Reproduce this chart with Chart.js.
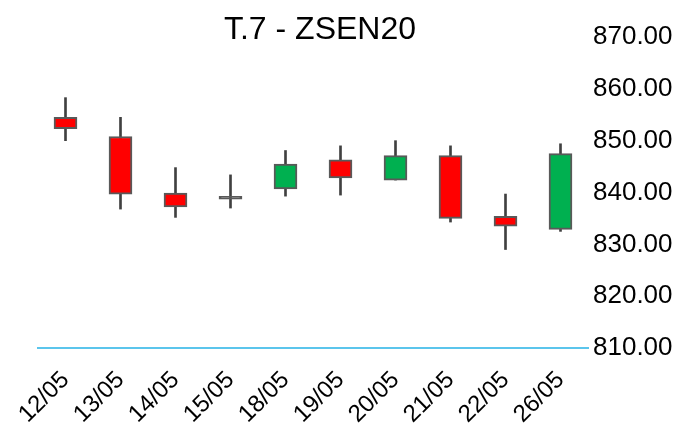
<!DOCTYPE html>
<html>
<head>
<meta charset="utf-8">
<script src="https://cdn.jsdelivr.net/npm/chart.js@4"></script>
<style>
    html, body { margin: 0; padding: 0; background: #fff; }
    #wrap { width: 679px; height: 427px; }
</style>
</head>
<body>
<div id="wrap"><canvas id="nenChart" width="679" height="427"></canvas></div>
<script>
// Dữ liệu nến
const ngay = ['12/05', '13/05', '14/05', '15/05', '18/05', '19/05', '20/05', '21/05', '22/05', '26/05'];
const giaMo = [854.5, 850.8, 839.9, 838.7, 840.7, 846.3, 842.4, 847.1, 835.4, 832.9];
const giaDong = [852.3, 839.7, 837.2, 838.7, 845.5, 842.8, 847.1, 835.0, 833.5, 847.5];
const giaCao = [858.3, 854.5, 844.8, 843.4, 848.1, 849.0, 850.0, 849.0, 839.7, 849.4];
const giaThap = [850.0, 836.8, 835.2, 837.0, 839.3, 839.5, 842.4, 834.3, 829.0, 832.5];
const tieuDe = 'T.7 - ZSEN20';

const than = ngay.map((d, i) => [giaMo[i], giaDong[i]]);
const bong = ngay.map((d, i) => [giaThap[i], giaCao[i]]);
const mauThan = ngay.map((d, i) => {
    if (giaDong[i] > giaMo[i]) return '#00b050';
    if (giaDong[i] < giaMo[i]) return '#ff0000';
    return '#595959';
});

// Vẽ tiêu đề
const tieuDePlugin = {
    id: 'tieuDe',
    afterDraw(chart) {
        const c = chart.ctx;
        c.save();
        c.fillStyle = '#000';
        c.font = '32px "Liberation Sans", Arial, sans-serif';
        c.textAlign = 'center';
        c.textBaseline = 'middle';
        c.fillText(tieuDe, 320, 30);
        c.restore();
    }
};

const ctx = document.getElementById('nenChart').getContext('2d');
new Chart(ctx, {
    type: 'bar',
    data: {
        labels: ngay,
        datasets: [{
            label: 'Thân',
            data: than,
            backgroundColor: mauThan,
            borderColor: '#595959',
            borderWidth: 2,
            borderSkipped: false,
            barThickness: 23,
            minBarLength: 3,
            grouped: false,
            order: 0
        }, {
            label: 'Bóng',
            data: bong,
            backgroundColor: '#404040',
            borderWidth: 0,
            barThickness: 2,
            grouped: false,
            order: 1
        }]
    },
    options: {
        responsive: false,
        animation: false,
        layout: { padding: { top: 37, left: 38, right: 0, bottom: 0 } },
        plugins: {
            legend: { display: false },
            tooltip: { enabled: false },
            title: { display: false }
        },
        scales: {
            x: {
                grid: { display: false },
                border: { color: '#5bc5ec', width: 2 },
                ticks: {
                    color: '#000',
                    font: { family: '"Liberation Sans", Arial, sans-serif', size: 24 },
                    minRotation: 45,
                    maxRotation: 45,
                    padding: 10
                },
                afterFit(scale) { scale.height = 79; }
            },
            y: {
                position: 'right',
                min: 810,
                max: 870,
                grid: { display: false, drawTicks: false },
                border: { display: false },
                ticks: {
                    stepSize: 10,
                    color: '#000',
                    padding: 5,
                    font: { family: '"Liberation Sans", Arial, sans-serif', size: 26 },
                    callback: v => v.toFixed(2)
                },
                afterFit(scale) { scale.width = 91; }
            }
        }
    },
    plugins: [tieuDePlugin]
});
</script>
</body>
</html>
